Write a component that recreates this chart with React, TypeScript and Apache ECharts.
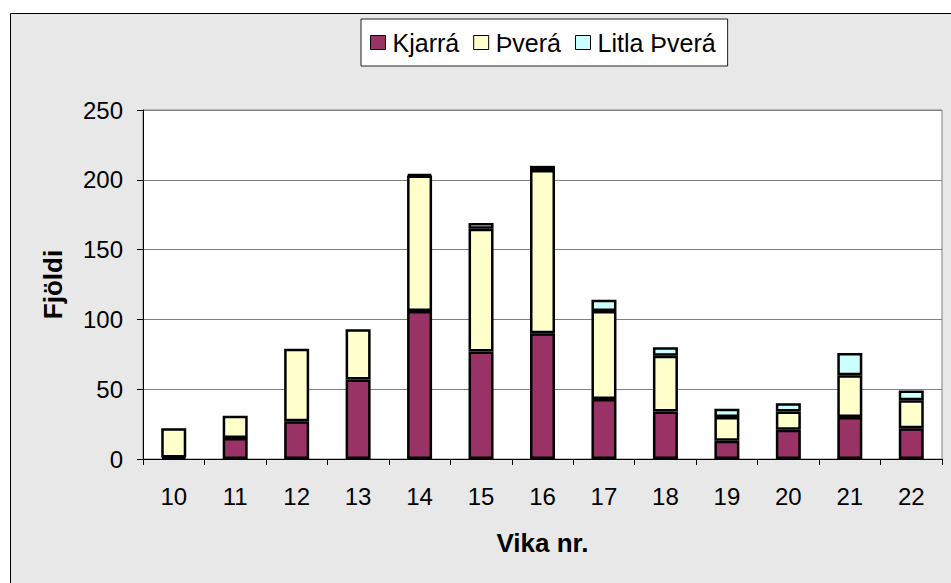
import React, { useEffect, useRef } from "react";
import * as echarts from "echarts";

const weeks = ["10", "11", "12", "13", "14", "15", "16", "17", "18", "19", "20", "21", "22"];
const kjarra = [1, 15, 27, 57, 106, 77, 90, 43, 34, 13, 21, 30, 22];
const thvera = [21, 16, 52, 36, 97, 88, 117, 63, 40, 17, 13, 30, 20];
const litlaThvera = [0, 0, 0, 0, 1, 4, 3, 8, 6, 6, 6, 16, 7];
const yTicks = { min: 0, max: 250, interval: 50 };

const FONT = "'Liberation Sans', Arial, sans-serif";

export default function App() {
  const ref = useRef<HTMLDivElement>(null);
  useEffect(() => {
    if (!ref.current) return;
    const chart = echarts.init(ref.current, null, { renderer: "svg" });
    const mk = (name: string, data: number[], color: string) => ({
      name,
      type: "bar",
      stack: "total",
      barWidth: 25,
      data: data.map((v) => (v === 0 ? null : v)),
      itemStyle: { color, borderColor: "#000", borderWidth: 2.5 },
    });
    chart.setOption({
      animation: false,
      backgroundColor: "#ffffff",
      textStyle: { fontFamily: FONT },
      graphic: [
        {
          type: "rect",
          silent: true,
          z: -10,
          shape: { x: 10.5, y: 13.5, width: 960, height: 600 },
          style: { fill: "#e8e8e8", stroke: "#000", lineWidth: 1 },
        },
      ],
      legend: {
        left: 361,
        top: 19,
        padding: [11, 12, 11, 9],
        itemGap: 14,
        itemWidth: 15,
        itemHeight: 14,
        backgroundColor: "#ffffff",
        borderColor: "#222",
        borderWidth: 1,
        icon: "rect",
        itemStyle: { borderColor: "#000", borderWidth: 1 },
        textStyle: { fontFamily: FONT, fontSize: 25, color: "#000", padding: [0, 0, 0, 2] },
        data: ["Kjarrá", "Þverá", "Litla Þverá"],
      },
      grid: {
        left: 143,
        right: 9,
        top: 110,
        bottom: 124,
        show: true,
        backgroundColor: "#ffffff",
        borderColor: "#808080",
        borderWidth: 1,
        containLabel: false,
      },
      xAxis: {
        type: "category",
        data: weeks,
        name: "Vika nr.",
        nameLocation: "middle",
        nameGap: 71,
        nameTextStyle: { fontFamily: FONT, fontSize: 26, fontWeight: "bold", color: "#000" },
        axisLine: { lineStyle: { color: "#000", width: 1 } },
        axisTick: { show: true, length: 6, lineStyle: { color: "#000" } },
        axisLabel: { fontFamily: FONT, fontSize: 24, color: "#000", margin: 25 },
      },
      yAxis: {
        type: "value",
        min: yTicks.min,
        max: yTicks.max,
        interval: yTicks.interval,
        name: "Fjöldi",
        nameLocation: "middle",
        nameGap: 77,
        nameRotate: 90,
        nameTextStyle: { fontFamily: FONT, fontSize: 26, fontWeight: "bold", color: "#000" },
        axisLine: { show: true, lineStyle: { color: "#000", width: 1 } },
        axisTick: { show: true, length: 6, lineStyle: { color: "#000" } },
        axisLabel: { fontFamily: FONT, fontSize: 24, color: "#000", margin: 20 },
        splitLine: { show: true, lineStyle: { color: "#808080", width: 1 } },
      },
      series: [
        mk("Kjarrá", kjarra, "#993366"),
        mk("Þverá", thvera, "#FFFFCC"),
        mk("Litla Þverá", litlaThvera, "#CCFFFF"),
      ],
    });
    return () => chart.dispose();
  }, []);
  return (
    <div
      ref={ref}
      style={{ position: "fixed", left: 0, top: 0, width: 951, height: 583 }}
    />
  );
}
